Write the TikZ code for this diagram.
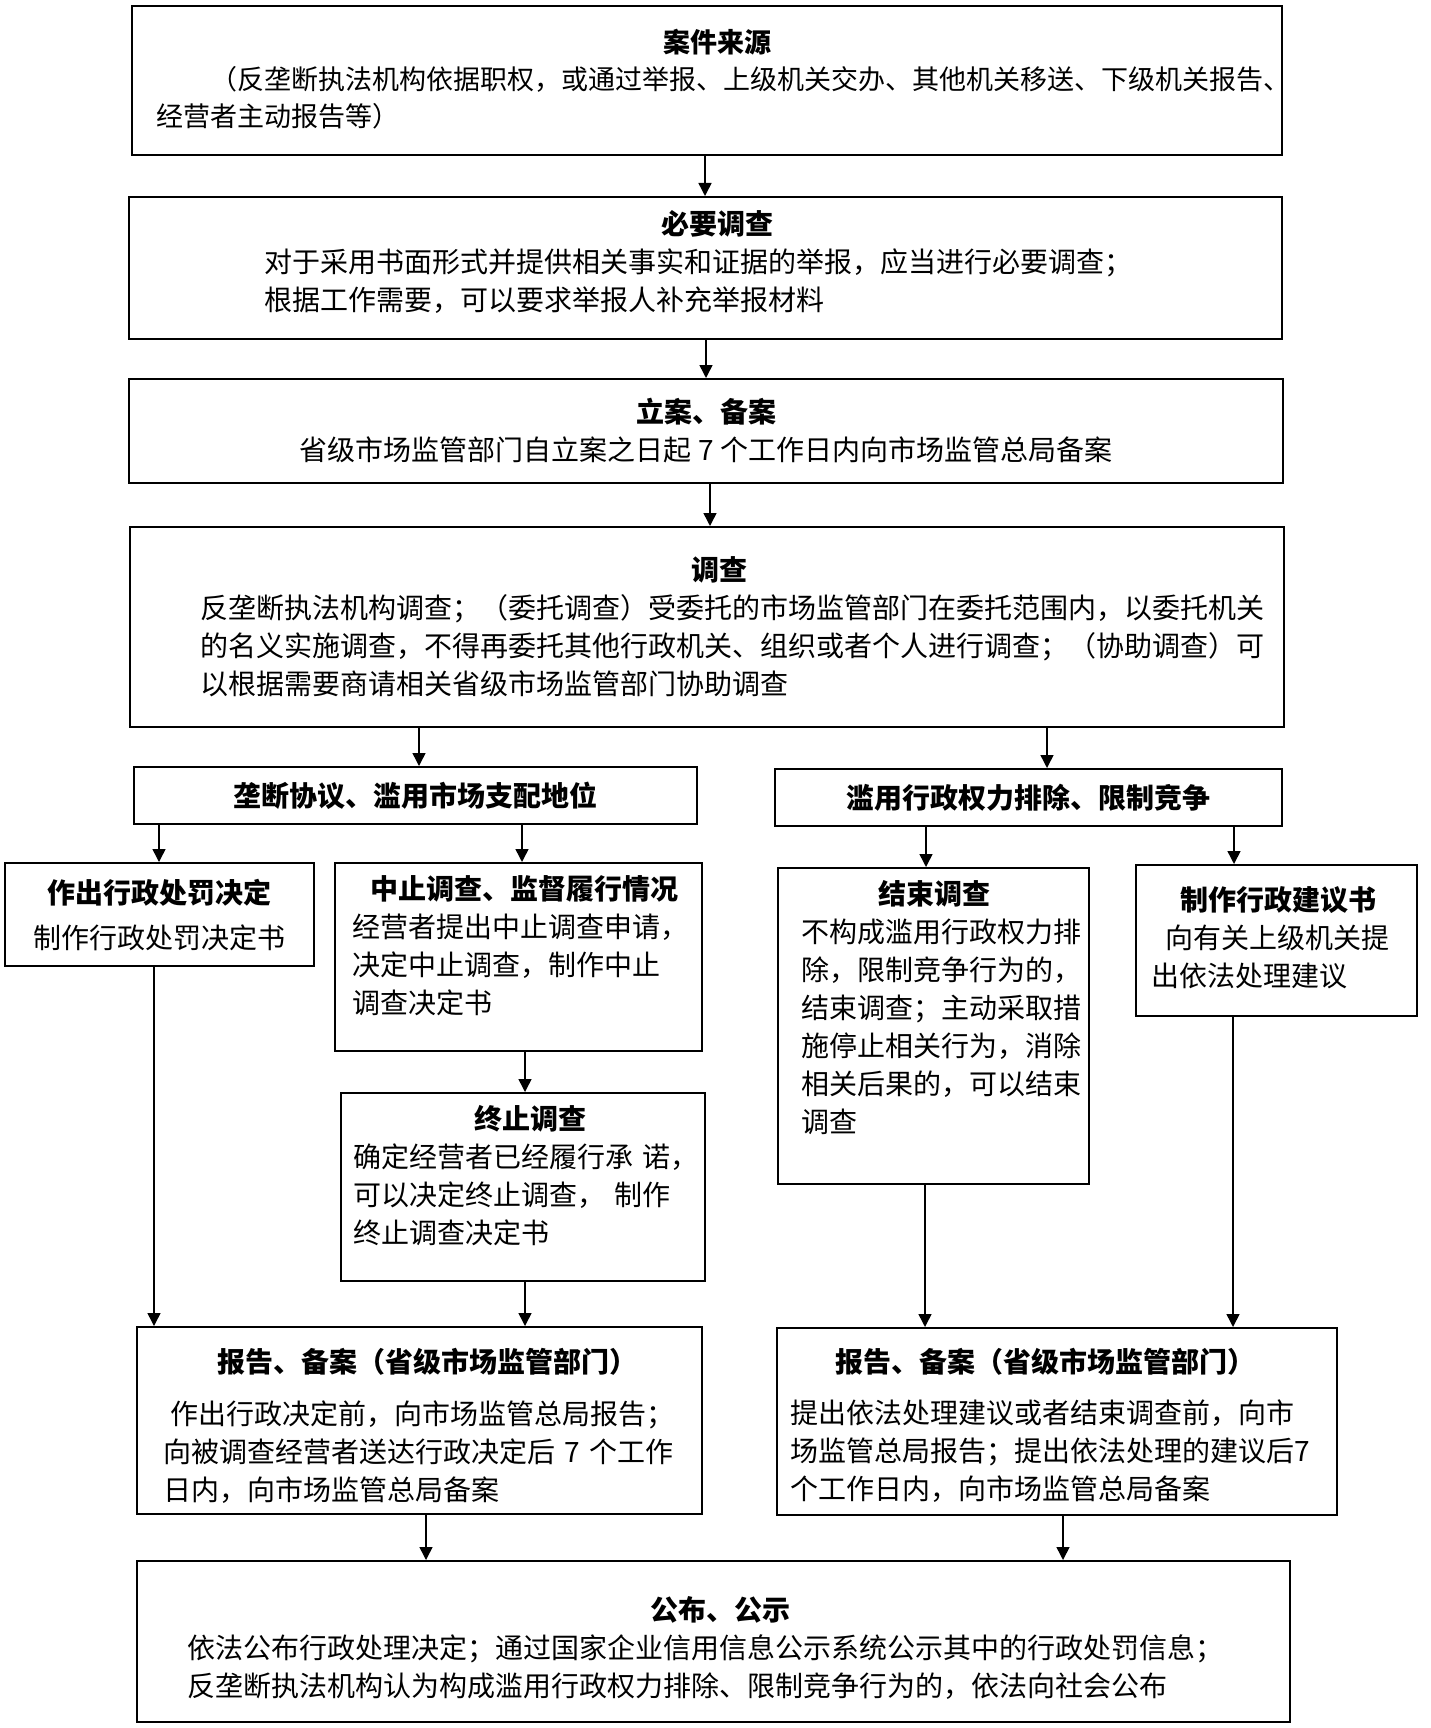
\documentclass[tikz,border=0pt]{standalone}
\usepackage{fontspec}
\setmainfont{Noto Sans CJK SC}
\usepackage{tikz}
\usetikzlibrary{arrows.meta}

\newcommand\bodyfont{\fontsize{28pt}{38pt}\selectfont}
\tikzset{
	box/.style={draw=black, line width=2pt, inner sep=0pt},
	txt/.style={anchor=base west, align=left, inner sep=0pt, font=\bodyfont},
	arr/.style={-{Triangle[length=13pt,width=13pt]}, line width=1.5pt},
}

\begin{document}
\begin{tikzpicture}[x=1pt, y=-1pt]
	\useasboundingbox (0,0) rectangle (1430,1728);
	% frames
	\node[box, minimum width=1150, minimum height=149] (src)  at (707,80.5) {};
	\node[box, minimum width=1153, minimum height=142] (need) at (705.5,268) {};
	\node[box, minimum width=1154, minimum height=104, align=center, font=\bodyfont] (file) at (706,431) {\textbf{立案、备案}\\省级市场监管部门自立案之日起 7 个工作日内向市场监管总局备案};
	\node[box, minimum width=1154, minimum height=200] (inv)  at (707,627) {};
	\node[box, minimum width=563, minimum height=57, font=\bodyfont\bfseries] (mono)  at (415.5,795.5) {垄断协议、滥用市场支配地位};
	\node[box, minimum width=507, minimum height=57, font=\bodyfont\bfseries] (admin) at (1028.5,797.5) {滥用行政权力排除、限制竞争};
	\node[box, minimum width=309, minimum height=103, align=center, font=\bodyfont] (pen) at (159.5,914.5) {\textbf{作出行政处罚决定}\\[7pt]制作行政处罚决定书};
	\node[box, minimum width=367, minimum height=188] (susp) at (518.5,957) {};
	\node[box, minimum width=364, minimum height=188] (term) at (523,1187) {};
	\node[box, minimum width=311, minimum height=316] (endi) at (933.5,1026) {};
	\node[box, minimum width=281, minimum height=151] (sugg) at (1276.5,940.5) {};
	\node[box, minimum width=565, minimum height=187] (repL) at (419.5,1420.5) {};
	\node[box, minimum width=560, minimum height=187] (repR) at (1057,1421.5) {};
	\node[box, minimum width=1153, minimum height=161] (pub)  at (713.5,1641.5) {};

	% texts
	\node[txt, font=\fontsize{27pt}{37pt}\selectfont, text width=1122pt] (srcT) at (156,53) {\hfill\textbf{案件来源}\hfill\null\\
		\hspace*{2em}（反垄断执法机构依据职权，或通过举报、上级机关交办、其他机关移送、下级机关报告、\\
		经营者主动报告等）};
	\node[txt, text width=906pt] (needT) at (264,235) {\hfill\textbf{必要调查}\hfill\null\\
		对于采用书面形式并提供相关事实和证据的举报，应当进行必要调查；\\
		根据工作需要，可以要求举报人补充举报材料};
	\node[txt, text width=1038pt] (invT) at (200,580) {\hfill\textbf{调查}\hfill\null\\
		反垄断执法机构调查；（委托调查）受委托的市场监管部门在委托范围内，以委托机关\\
		的名义实施调查，不得再委托其他行政机关、组织或者个人进行调查；（协助调查）可\\
		以根据需要商请相关省级市场监管部门协助调查};
	\node[txt, text width=344pt] (suspT) at (352,899) {\hfill\textbf{中止调查、监督履行情况}\hfill\null\\
		经营者提出中止调查申请，\\
		决定中止调查，制作中止\\
		调查决定书};
	\node[txt, text width=354pt] (termT) at (353,1129) {\hfill\textbf{终止调查}\hfill\null\\
		确定经营者已经履行承 诺，\\
		可以决定终止调查， 制作\\
		终止调查决定书};
	\node[txt, text width=266pt] (endiT) at (801,904) {\hfill\textbf{结束调查}\hfill\null\\
		不构成滥用行政权力排\\
		除，限制竞争行为的，\\
		结束调查；主动采取措\\
		施停止相关行为，消除\\
		相关后果的，可以结束\\
		调查};
	\node[txt, text width=254pt] (suggT) at (1151,910) {\hfill\textbf{制作行政建议书}\hfill\null\\
		\hspace*{0.5em}向有关上级机关提\\
		出依法处理建议};
	\node[txt, text width=528pt] (repLT) at (163,1372) {\hfill\textbf{报告、备案（省级市场监管部门）}\hfill\null\\[14pt]
		\hspace*{0.25em}作出行政决定前，向市场监管总局报告；\\
		向被调查经营者送达行政决定后 7 个工作\\
		日内，向市场监管总局备案};
	\node[txt, text width=510pt] (repRT) at (790,1372) {\hfill\textbf{报告、备案（省级市场监管部门）}\hfill\null\\[13pt]
		提出依法处理建议或者结束调查前，向市\\
		场监管总局报告；提出依法处理的建议后7\\
		个工作日内，向市场监管总局备案};
	\node[txt, text width=1066pt] (pubT) at (187,1620) {\hfill\textbf{公布、公示}\hfill\null\\
		依法公布行政处理决定；通过国家企业信用信息公示系统公示其中的行政处罚信息；\\
		反垄断执法机构认为构成滥用行政权力排除、限制竞争行为的，依法向社会公布};

	% connectors
	\draw[arr] (src.south -| 705,0) -- (need.north -| 705,0);
	\draw[arr] (need.south -| 706,0) -- (file.north -| 706,0);
	\draw[arr] (file.south -| 710,0) -- (inv.north -| 710,0);
	\draw[arr] (inv.south -| 419,0) -- (mono.north -| 419,0);
	\draw[arr] (inv.south -| 1047,0) -- (admin.north -| 1047,0);
	\draw[arr] (mono.south -| 159,0) -- (pen.north -| 159,0);
	\draw[arr] (mono.south -| 522,0) -- (susp.north -| 522,0);
	\draw[arr] (susp.south -| 525,0) -- (term.north -| 525,0);
	\draw[arr] (admin.south -| 926,0) -- (endi.north -| 926,0);
	\draw[arr] (admin.south -| 1234,0) -- (sugg.north -| 1234,0);
	\draw[arr] (pen.south -| 154,0) -- (repL.north -| 154,0);
	\draw[arr] (term.south -| 525,0) -- (repL.north -| 525,0);
	\draw[arr] (endi.south -| 925,0) -- (repR.north -| 925,0);
	\draw[arr] (sugg.south -| 1233,0) -- (repR.north -| 1233,0);
	\draw[arr] (repL.south -| 426,0) -- (pub.north -| 426,0);
	\draw[arr] (repR.south -| 1063,0) -- (pub.north -| 1063,0);
\end{tikzpicture}
\end{document}
